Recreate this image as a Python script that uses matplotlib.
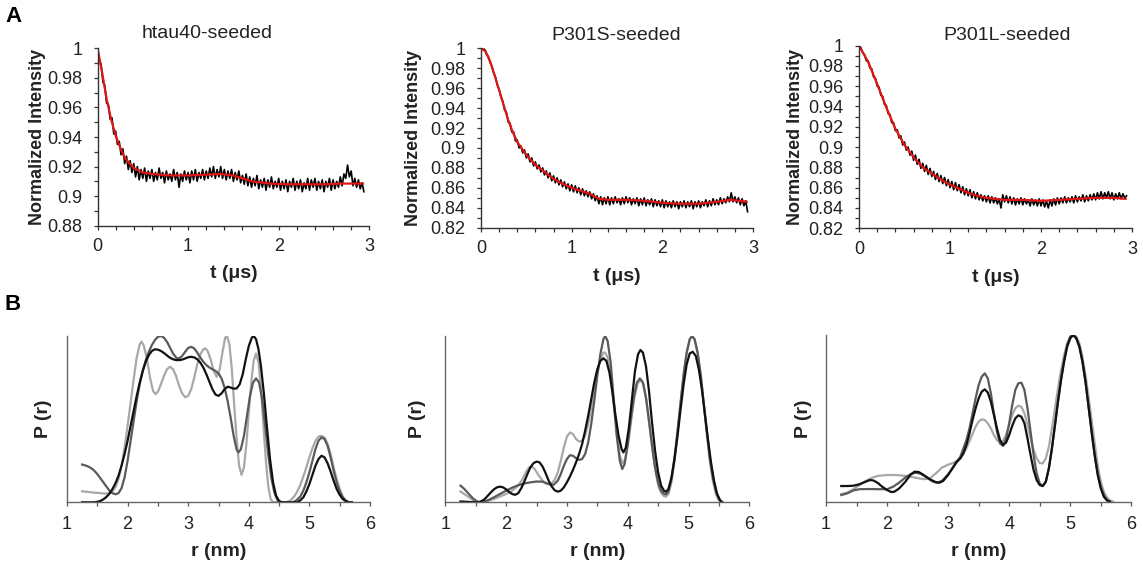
import numpy as np
import matplotlib
matplotlib.use("Agg")
import matplotlib.pyplot as plt
from matplotlib.ticker import MultipleLocator, FuncFormatter

plt.rcParams['font.family'] = ['Liberation Sans', 'DejaVu Sans']

# ---------------- DATA ----------------
titles = ["htau40-seeded", "P301S-seeded", "P301L-seeded"]
trace_dt = 0.02  # sampling step of the DEER traces (us)

trace_htau40 = [
    1.000, 0.992, 0.989, 0.977, 0.975, 0.963, 0.962, 0.952, 0.953, 0.942,
    0.944, 0.935, 0.937, 0.928, 0.932, 0.922, 0.927, 0.918, 0.924, 0.916,
    0.922, 0.913, 0.920, 0.911, 0.918, 0.912, 0.919, 0.910, 0.917, 0.912,
    0.918, 0.910, 0.916, 0.911, 0.919, 0.912, 0.916, 0.909, 0.917, 0.911,
    0.915, 0.910, 0.918, 0.911, 0.916, 0.906, 0.915, 0.910, 0.917, 0.911,
    0.916, 0.909, 0.917, 0.911, 0.918, 0.910, 0.916, 0.912, 0.918, 0.911,
    0.917, 0.912, 0.919, 0.913, 0.920, 0.912, 0.918, 0.913, 0.920, 0.912,
    0.918, 0.911, 0.917, 0.912, 0.918, 0.910, 0.916, 0.911, 0.917, 0.909,
    0.914, 0.908, 0.915, 0.907, 0.913, 0.906, 0.912, 0.907, 0.914, 0.905,
    0.911, 0.906, 0.912, 0.904, 0.911, 0.906, 0.913, 0.905, 0.910, 0.906,
    0.912, 0.904, 0.910, 0.905, 0.911, 0.903, 0.910, 0.906, 0.912, 0.904,
    0.910, 0.905, 0.911, 0.903, 0.909, 0.905, 0.912, 0.904, 0.911, 0.906,
    0.912, 0.904, 0.910, 0.905, 0.911, 0.903, 0.910, 0.906, 0.912, 0.904,
    0.911, 0.905, 0.910, 0.906, 0.913, 0.907, 0.915, 0.912, 0.921, 0.913,
    0.917, 0.907, 0.912, 0.906, 0.911, 0.905, 0.909, 0.903]

trace_p301s = [
    1.000, 0.999, 0.999, 0.994, 0.992, 0.986, 0.982, 0.975, 0.971, 0.963,
    0.959, 0.951, 0.947, 0.938, 0.936, 0.926, 0.925, 0.916, 0.916, 0.907,
    0.908, 0.900, 0.902, 0.895, 0.898, 0.890, 0.894, 0.886, 0.890, 0.882,
    0.886, 0.879, 0.883, 0.876, 0.880, 0.873, 0.877, 0.870, 0.875, 0.867,
    0.872, 0.865, 0.870, 0.863, 0.868, 0.861, 0.866, 0.859, 0.864, 0.857,
    0.863, 0.856, 0.862, 0.855, 0.860, 0.853, 0.859, 0.852, 0.857, 0.851,
    0.856, 0.849, 0.854, 0.847, 0.852, 0.844, 0.851, 0.843, 0.850, 0.844,
    0.851, 0.843, 0.850, 0.844, 0.851, 0.845, 0.849, 0.843, 0.850, 0.844,
    0.851, 0.845, 0.850, 0.843, 0.849, 0.844, 0.850, 0.842, 0.849, 0.843,
    0.850, 0.842, 0.848, 0.843, 0.849, 0.841, 0.848, 0.842, 0.847, 0.841,
    0.848, 0.840, 0.847, 0.841, 0.846, 0.840, 0.847, 0.841, 0.846, 0.839,
    0.846, 0.841, 0.847, 0.840, 0.846, 0.841, 0.847, 0.839, 0.846, 0.841,
    0.847, 0.840, 0.846, 0.842, 0.848, 0.841, 0.847, 0.842, 0.849, 0.843,
    0.848, 0.843, 0.850, 0.844, 0.849, 0.845, 0.851, 0.846, 0.855, 0.846,
    0.851, 0.845, 0.850, 0.843, 0.849, 0.842, 0.847, 0.836]

trace_p301l = [
    1.000, 0.998, 0.993, 0.991, 0.985, 0.985, 0.978, 0.977, 0.969, 0.968,
    0.960, 0.959, 0.951, 0.950, 0.942, 0.941, 0.933, 0.932, 0.924, 0.924,
    0.916, 0.917, 0.909, 0.911, 0.902, 0.905, 0.897, 0.900, 0.892, 0.896,
    0.887, 0.892, 0.883, 0.888, 0.879, 0.884, 0.876, 0.882, 0.873, 0.879,
    0.871, 0.876, 0.868, 0.874, 0.866, 0.872, 0.864, 0.870, 0.862, 0.868,
    0.860, 0.866, 0.858, 0.865, 0.857, 0.863, 0.855, 0.861, 0.853, 0.859,
    0.852, 0.858, 0.850, 0.856, 0.849, 0.855, 0.848, 0.853, 0.847, 0.852,
    0.846, 0.852, 0.845, 0.851, 0.845, 0.850, 0.844, 0.849, 0.840, 0.853,
    0.846, 0.852, 0.845, 0.851, 0.844, 0.850, 0.843, 0.849, 0.844, 0.850,
    0.843, 0.849, 0.844, 0.848, 0.842, 0.849, 0.843, 0.848, 0.842, 0.849,
    0.842, 0.848, 0.841, 0.847, 0.840, 0.848, 0.842, 0.849, 0.843, 0.850,
    0.844, 0.850, 0.845, 0.851, 0.845, 0.850, 0.846, 0.851, 0.845, 0.852,
    0.846, 0.851, 0.847, 0.853, 0.846, 0.852, 0.847, 0.853, 0.848, 0.854,
    0.848, 0.855, 0.849, 0.856, 0.849, 0.855, 0.850, 0.856, 0.849, 0.855,
    0.848, 0.854, 0.849, 0.855, 0.849, 0.854, 0.850, 0.852]

# fitted curves (red)
fit_t_htau40 = [0.0, 0.05, 0.1, 0.15, 0.2, 0.25, 0.3, 0.4, 0.5, 0.6, 0.8, 1.0,
                1.2, 1.35, 1.5, 1.7, 1.9, 2.1, 2.3, 2.5, 2.7, 2.93]
fit_htau40 = [1.000, 0.984, 0.966, 0.952, 0.941, 0.933, 0.926, 0.919, 0.916,
              0.915, 0.914, 0.914, 0.9145, 0.915, 0.914, 0.910, 0.9085, 0.908,
              0.908, 0.908, 0.9085, 0.9085]

fit_t_p301s = [0.0, 0.05, 0.1, 0.15, 0.2, 0.25, 0.3, 0.35, 0.4, 0.5, 0.6, 0.7,
               0.8, 0.9, 1.0, 1.1, 1.2, 1.3, 1.4, 1.6, 1.8, 2.0, 2.2, 2.4, 2.6,
               2.75, 2.93]
fit_p301s = [1.000, 0.997, 0.987, 0.973, 0.958, 0.943, 0.928, 0.916, 0.906,
             0.893, 0.883, 0.876, 0.869, 0.864, 0.860, 0.857, 0.854, 0.849,
             0.848, 0.848, 0.847, 0.845, 0.844, 0.844, 0.846, 0.848, 0.846]

fit_t_p301l = [0.0, 0.1, 0.2, 0.3, 0.4, 0.5, 0.6, 0.7, 0.8, 0.9, 1.0, 1.1, 1.2,
               1.3, 1.4, 1.6, 1.8, 2.0, 2.2, 2.4, 2.6, 2.8, 2.93]
fit_p301l = [1.000, 0.984, 0.962, 0.939, 0.918, 0.902, 0.890, 0.880, 0.874,
             0.868, 0.863, 0.859, 0.855, 0.852, 0.850, 0.848, 0.848, 0.847,
             0.848, 0.849, 0.850, 0.850, 0.849]

ylims_top = [(0.88, 1.0), (0.82, 1.0), (0.82, 1.0)]

# distance distributions P(r): black, dark grey, light grey per panel
r_b1_black = [1.25, 1.45, 1.5, 1.55, 1.6, 1.65, 1.7, 1.75, 1.8, 1.85, 1.9, 1.95,
              2.0, 2.05, 2.1, 2.15, 2.2, 2.25, 2.3, 2.35, 2.4, 2.45, 2.5, 2.55,
              2.6, 2.65, 2.7, 2.75, 2.8, 2.85, 2.9, 2.95, 3.0, 3.05, 3.1, 3.15,
              3.2, 3.25, 3.3, 3.35, 3.4, 3.45, 3.5, 3.55, 3.6, 3.65, 3.7, 3.75,
              3.8, 3.85, 3.9, 3.95, 4.0, 4.05, 4.08, 4.12, 4.16, 4.2, 4.25, 4.3,
              4.35, 4.4, 4.45, 4.5, 4.55, 4.8, 4.85, 4.9, 4.95, 5.0, 5.05, 5.1,
              5.15, 5.2, 5.25, 5.3, 5.35, 5.4, 5.45, 5.5, 5.55, 5.6, 5.65, 5.7]
p_b1_black = [0.0, 0.0, 0.003, 0.008, 0.018, 0.032, 0.052, 0.08, 0.115, 0.16,
              0.22, 0.29, 0.37, 0.46, 0.55, 0.64, 0.72, 0.79, 0.845, 0.885, 0.91,
              0.92, 0.918, 0.91, 0.898, 0.883, 0.869, 0.86, 0.855, 0.855, 0.858,
              0.865, 0.872, 0.875, 0.871, 0.86, 0.84, 0.81, 0.77, 0.725, 0.68,
              0.648, 0.64, 0.655, 0.68, 0.695, 0.69, 0.683, 0.685, 0.71, 0.77,
              0.86, 0.94, 0.99, 1.0, 0.98, 0.92, 0.82, 0.65, 0.45, 0.26, 0.12,
              0.04, 0.008, 0.0, 0.0, 0.012, 0.03, 0.065, 0.11, 0.165, 0.22, 0.26,
              0.28, 0.27, 0.235, 0.185, 0.13, 0.08, 0.045, 0.02, 0.007, 0.0, 0.0]

r_b1_dark = [1.25, 1.3, 1.35, 1.4, 1.45, 1.5, 1.55, 1.6, 1.65, 1.7, 1.75, 1.8,
             1.85, 1.9, 1.95, 2.0, 2.05, 2.1, 2.15, 2.2, 2.25, 2.3, 2.35, 2.4,
             2.45, 2.5, 2.55, 2.6, 2.65, 2.7, 2.75, 2.8, 2.85, 2.9, 2.95, 3.0,
             3.05, 3.1, 3.15, 3.2, 3.25, 3.3, 3.35, 3.4, 3.45, 3.5, 3.55, 3.6,
             3.65, 3.7, 3.75, 3.8, 3.83, 3.87, 3.92, 3.97, 4.02, 4.07, 4.12,
             4.17, 4.22, 4.27, 4.32, 4.37, 4.42, 4.47, 4.5, 4.72, 4.78, 4.85,
             4.9, 4.95, 5.0, 5.05, 5.1, 5.15, 5.2, 5.25, 5.3, 5.35, 5.4, 5.45,
             5.5, 5.55, 5.6, 5.65, 5.7]
p_b1_dark = [0.227, 0.222, 0.215, 0.205, 0.19, 0.17, 0.145, 0.12, 0.095, 0.07,
             0.055, 0.048, 0.055, 0.085, 0.15, 0.25, 0.37, 0.49, 0.61, 0.71,
             0.79, 0.855, 0.905, 0.945, 0.975, 0.995, 1.0, 0.99, 0.965, 0.93,
             0.895, 0.87, 0.865, 0.88, 0.905, 0.928, 0.935, 0.925, 0.9, 0.87,
             0.845, 0.825, 0.81, 0.8, 0.79, 0.775, 0.745, 0.69, 0.61, 0.51, 0.40,
             0.315, 0.30, 0.32, 0.40, 0.52, 0.64, 0.72, 0.745, 0.72, 0.62, 0.46,
             0.29, 0.15, 0.06, 0.015, 0.0, 0.0, 0.01, 0.035, 0.07, 0.12, 0.18,
             0.25, 0.32, 0.37, 0.39, 0.38, 0.34, 0.27, 0.19, 0.12, 0.065, 0.03,
             0.01, 0.0, 0.0]

r_b1_light = [1.25, 1.4, 1.55, 1.65, 1.7, 1.75, 1.8, 1.85, 1.9, 1.95, 2.0, 2.05,
              2.1, 2.15, 2.2, 2.23, 2.27, 2.32, 2.37, 2.42, 2.46, 2.5, 2.55, 2.6,
              2.65, 2.7, 2.75, 2.8, 2.85, 2.9, 2.95, 3.0, 3.05, 3.1, 3.15, 3.2,
              3.25, 3.28, 3.32, 3.37, 3.42, 3.47, 3.52, 3.57, 3.61, 3.64, 3.68,
              3.72, 3.76, 3.8, 3.84, 3.88, 3.92, 3.96, 4.0, 4.04, 4.08, 4.12,
              4.16, 4.2, 4.24, 4.28, 4.32, 4.36, 4.4, 4.62, 4.68, 4.75, 4.8,
              4.85, 4.9, 4.95, 5.0, 5.05, 5.1, 5.15, 5.2, 5.25, 5.3, 5.35, 5.4,
              5.45, 5.5, 5.55, 5.6, 5.65, 5.7]
p_b1_light = [0.066, 0.06, 0.055, 0.052, 0.055, 0.065, 0.09, 0.14, 0.22, 0.33,
              0.46, 0.60, 0.74, 0.87, 0.95, 0.966, 0.94, 0.86, 0.75, 0.67, 0.65,
              0.665, 0.71, 0.76, 0.80, 0.815, 0.80, 0.76, 0.70, 0.655, 0.632,
              0.64, 0.68, 0.75, 0.83, 0.89, 0.92, 0.926, 0.91, 0.86, 0.79, 0.755,
              0.80, 0.91, 0.99, 1.0, 0.95, 0.80, 0.58, 0.38, 0.22, 0.165, 0.21,
              0.35, 0.54, 0.72, 0.85, 0.895, 0.84, 0.69, 0.47, 0.26, 0.10, 0.02,
              0.0, 0.0, 0.01, 0.035, 0.065, 0.105, 0.155, 0.21, 0.27, 0.325,
              0.37, 0.395, 0.40, 0.39, 0.35, 0.29, 0.21, 0.14, 0.08, 0.035, 0.01,
              0.0, 0.0]

r_b2_black = [1.25, 1.4, 1.5, 1.55, 1.6, 1.65, 1.7, 1.75, 1.8, 1.85, 1.9, 1.95,
              2.0, 2.05, 2.1, 2.15, 2.2, 2.25, 2.3, 2.35, 2.4, 2.45, 2.5, 2.55,
              2.6, 2.65, 2.7, 2.75, 2.8, 2.85, 2.9, 2.95, 3.0, 3.05, 3.1, 3.15,
              3.2, 3.25, 3.3, 3.35, 3.4, 3.45, 3.5, 3.55, 3.6, 3.65, 3.7, 3.75,
              3.8, 3.85, 3.9, 3.93, 3.97, 4.02, 4.07, 4.12, 4.17, 4.21, 4.25,
              4.3, 4.35, 4.4, 4.45, 4.5, 4.55, 4.6, 4.63, 4.67, 4.72, 4.77,
              4.82, 4.87, 4.92, 4.97, 5.02, 5.07, 5.12, 5.17, 5.22, 5.27, 5.32,
              5.37, 5.42, 5.47, 5.52, 5.56]
p_b2_black = [0.005, 0.002, 0.0, 0.0, 0.008, 0.02, 0.04, 0.06, 0.078, 0.09,
              0.094, 0.09, 0.078, 0.062, 0.05, 0.045, 0.055, 0.085, 0.125, 0.17,
              0.21, 0.235, 0.245, 0.24, 0.215, 0.175, 0.13, 0.095, 0.072, 0.064,
              0.07, 0.09, 0.12, 0.155, 0.195, 0.24, 0.29, 0.35, 0.43, 0.52, 0.62,
              0.72, 0.80, 0.85, 0.866, 0.85, 0.78, 0.66, 0.52, 0.40, 0.32, 0.30,
              0.33, 0.45, 0.62, 0.79, 0.89, 0.916, 0.90, 0.82, 0.67, 0.48, 0.31,
              0.18, 0.10, 0.068, 0.064, 0.08, 0.15, 0.26, 0.40, 0.56, 0.71, 0.83,
              0.895, 0.905, 0.88, 0.80, 0.68, 0.53, 0.38, 0.24, 0.13, 0.05,
              0.012, 0.0]

r_b2_dark = [1.25, 1.3, 1.35, 1.4, 1.45, 1.5, 1.55, 1.6, 1.7, 1.8, 1.9, 2.0,
             2.1, 2.2, 2.3, 2.4, 2.5, 2.6, 2.7, 2.78, 2.85, 2.9, 2.95, 3.0, 3.05,
             3.1, 3.15, 3.2, 3.25, 3.3, 3.35, 3.4, 3.45, 3.5, 3.55, 3.6, 3.63,
             3.67, 3.72, 3.77, 3.82, 3.87, 3.91, 3.95, 4.0, 4.05, 4.1, 4.15, 4.2,
             4.25, 4.3, 4.35, 4.4, 4.45, 4.5, 4.55, 4.6, 4.63, 4.67, 4.72, 4.77,
             4.82, 4.87, 4.92, 4.97, 5.02, 5.06, 5.1, 5.15, 5.2, 5.25, 5.3, 5.35,
             5.4, 5.45, 5.5, 5.55]
p_b2_dark = [0.10, 0.085, 0.065, 0.045, 0.025, 0.01, 0.002, 0.0, 0.012, 0.03,
             0.05, 0.07, 0.088, 0.103, 0.113, 0.12, 0.125, 0.124, 0.11, 0.105,
             0.13, 0.17, 0.22, 0.26, 0.283, 0.28, 0.265, 0.255, 0.26, 0.29, 0.36,
             0.47, 0.61, 0.76, 0.89, 0.98, 1.0, 0.97, 0.84, 0.62, 0.40, 0.25,
             0.20, 0.23, 0.35, 0.50, 0.63, 0.72, 0.745, 0.72, 0.63, 0.49, 0.34,
             0.21, 0.12, 0.07, 0.05, 0.048, 0.065, 0.14, 0.27, 0.43, 0.60, 0.77,
             0.90, 0.98, 1.0, 0.98, 0.90, 0.77, 0.60, 0.43, 0.27, 0.15, 0.07,
             0.02, 0.0]

r_b2_light = [1.25, 1.35, 1.45, 1.55, 1.6, 1.7, 1.8, 1.9, 2.0, 2.1, 2.2, 2.27,
              2.33, 2.38, 2.42, 2.47, 2.53, 2.6, 2.67, 2.73, 2.8, 2.85, 2.9,
              2.95, 3.0, 3.05, 3.1, 3.15, 3.2, 3.25, 3.3, 3.35, 3.4, 3.45, 3.5,
              3.55, 3.6, 3.63, 3.67, 3.72, 3.77, 3.82, 3.87, 3.92, 3.96, 4.01,
              4.06, 4.11, 4.16, 4.21, 4.26, 4.31, 4.36, 4.41, 4.46, 4.51, 4.56,
              4.6, 4.63, 4.67, 4.72, 4.77, 4.82, 4.87, 4.92, 4.97, 5.02, 5.06,
              5.1, 5.15, 5.2, 5.25, 5.3, 5.35, 5.4, 5.45, 5.5, 5.55]
p_b2_light = [0.065, 0.04, 0.015, 0.0, 0.0, 0.008, 0.02, 0.035, 0.05, 0.07,
              0.10, 0.14, 0.185, 0.21, 0.215, 0.20, 0.165, 0.13, 0.11, 0.108,
              0.135, 0.18, 0.25, 0.33, 0.395, 0.42, 0.41, 0.38, 0.365, 0.37,
              0.40, 0.47, 0.57, 0.68, 0.78, 0.86, 0.90, 0.90, 0.87, 0.76, 0.58,
              0.41, 0.28, 0.235, 0.26, 0.36, 0.50, 0.63, 0.71, 0.74, 0.71, 0.61,
              0.46, 0.31, 0.18, 0.09, 0.05, 0.036, 0.034, 0.05, 0.12, 0.25, 0.42,
              0.60, 0.77, 0.90, 0.98, 1.0, 0.98, 0.90, 0.77, 0.59, 0.41, 0.25,
              0.13, 0.05, 0.012, 0.0]

r_b3_black = [1.25, 1.35, 1.45, 1.55, 1.65, 1.72, 1.78, 1.85, 1.92, 2.0, 2.07,
              2.12, 2.2, 2.3, 2.38, 2.45, 2.52, 2.6, 2.7, 2.8, 2.86, 2.92, 3.0,
              3.07, 3.13, 3.2, 3.25, 3.3, 3.35, 3.4, 3.45, 3.5, 3.55, 3.6, 3.65,
              3.7, 3.75, 3.8, 3.85, 3.9, 3.95, 4.0, 4.05, 4.1, 4.15, 4.2, 4.25,
              4.3, 4.35, 4.4, 4.45, 4.5, 4.55, 4.6, 4.65, 4.7, 4.75, 4.8, 4.85,
              4.9, 4.95, 5.0, 5.05, 5.1, 5.15, 5.2, 5.25, 5.3, 5.35, 5.4, 5.45,
              5.5, 5.55, 5.6, 5.65]
p_b3_black = [0.094, 0.094, 0.096, 0.105, 0.12, 0.13, 0.127, 0.112, 0.09, 0.07,
              0.058, 0.06, 0.08, 0.12, 0.16, 0.18, 0.178, 0.16, 0.135, 0.117,
              0.114, 0.125, 0.16, 0.20, 0.235, 0.26, 0.29, 0.34, 0.41, 0.49,
              0.56, 0.62, 0.66, 0.674, 0.655, 0.60, 0.52, 0.44, 0.37, 0.34, 0.355,
              0.40, 0.455, 0.50, 0.518, 0.51, 0.47, 0.38, 0.28, 0.19, 0.13, 0.10,
              0.094, 0.12, 0.20, 0.32, 0.46, 0.60, 0.73, 0.84, 0.93, 0.98, 1.0,
              0.98, 0.93, 0.84, 0.72, 0.57, 0.42, 0.28, 0.16, 0.08, 0.03, 0.008,
              0.0]

r_b3_dark = [1.25, 1.35, 1.45, 1.55, 1.7, 1.85, 2.0, 2.1, 2.2, 2.3, 2.4, 2.47,
             2.55, 2.65, 2.75, 2.82, 2.9, 3.0, 3.1, 3.2, 3.3, 3.35, 3.4, 3.45,
             3.5, 3.55, 3.6, 3.65, 3.7, 3.75, 3.8, 3.85, 3.9, 3.95, 4.0, 4.05,
             4.1, 4.15, 4.2, 4.25, 4.3, 4.35, 4.4, 4.45, 4.5, 4.55, 4.6, 4.65,
             4.7, 4.75, 4.8, 4.85, 4.9, 4.95, 5.0, 5.05, 5.1, 5.15, 5.2, 5.25,
             5.3, 5.35, 5.4, 5.45, 5.5, 5.55, 5.6, 5.65]
p_b3_dark = [0.04, 0.05, 0.068, 0.075, 0.076, 0.075, 0.075, 0.09, 0.115, 0.145,
             0.168, 0.174, 0.168, 0.145, 0.12, 0.114, 0.125, 0.165, 0.215, 0.27,
             0.37, 0.44, 0.53, 0.62, 0.70, 0.75, 0.77, 0.74, 0.65, 0.53, 0.42,
             0.35, 0.335, 0.38, 0.47, 0.58, 0.67, 0.71, 0.714, 0.67, 0.56, 0.42,
             0.28, 0.17, 0.11, 0.094, 0.12, 0.20, 0.32, 0.46, 0.61, 0.74, 0.85,
             0.94, 0.99, 1.0, 0.98, 0.93, 0.84, 0.72, 0.57, 0.42, 0.28, 0.17,
             0.09, 0.04, 0.012, 0.0]

r_b3_light = [1.25, 1.35, 1.45, 1.55, 1.65, 1.75, 1.85, 2.0, 2.15, 2.3, 2.45,
              2.6, 2.7, 2.8, 2.9, 3.0, 3.1, 3.2, 3.3, 3.38, 3.45, 3.5, 3.55, 3.6,
              3.65, 3.7, 3.75, 3.8, 3.85, 3.9, 3.95, 4.0, 4.05, 4.1, 4.15, 4.2,
              4.25, 4.3, 4.35, 4.4, 4.45, 4.5, 4.55, 4.6, 4.65, 4.7, 4.75, 4.8,
              4.85, 4.9, 4.95, 5.0, 5.05, 5.1, 5.15, 5.2, 5.25, 5.3, 5.35, 5.4,
              5.45, 5.5, 5.55, 5.6, 5.65, 5.7]
p_b3_light = [0.046, 0.055, 0.075, 0.10, 0.125, 0.143, 0.155, 0.16, 0.16, 0.155,
              0.145, 0.135, 0.14, 0.17, 0.205, 0.222, 0.235, 0.26, 0.32, 0.39,
              0.45, 0.48, 0.494, 0.49, 0.47, 0.44, 0.40, 0.37, 0.355, 0.365,
              0.40, 0.46, 0.52, 0.56, 0.576, 0.57, 0.53, 0.46, 0.38, 0.31, 0.26,
              0.232, 0.23, 0.26, 0.33, 0.44, 0.56, 0.68, 0.79, 0.88, 0.95, 0.99,
              1.0, 0.99, 0.95, 0.87, 0.76, 0.63, 0.49, 0.35, 0.22, 0.12, 0.06,
              0.025, 0.008, 0.0]

r_ticks = [1, 2, 3, 4, 5, 6]

# ---------------- FIGURE ----------------
W, H = 1143, 565
fig = plt.figure(figsize=(W / 100, H / 100), dpi=100)

def px_axes(x0, x1, ytop, ybot):
    return fig.add_axes([x0 / W, 1 - ybot / H, (x1 - x0) / W, (ybot - ytop) / H])

top_boxes = [(97.5, 369.3, 48.3, 225.7), (481.0, 753.0, 48.3, 227.7), (859.0, 1132.0, 45.5, 228.3)]
top_ylab_x = [-0.222, -0.25, -0.234]
title_pos = [(206.7, 34), (615.8, 36), (1007.0, 35)]
traces = [trace_htau40, trace_p301s, trace_p301l]
fits = [(fit_t_htau40, fit_htau40), (fit_t_p301s, fit_p301s), (fit_t_p301l, fit_p301l)]

spine_col = '#333333'
fmt = FuncFormatter(lambda v, p: ('%.2f' % v).rstrip('0').rstrip('.'))

for i in range(3):
    ax = px_axes(*top_boxes[i])
    tr = traces[i]
    t_tr = np.arange(len(tr)) * trace_dt
    ax.plot(t_tr, tr, color='black', lw=1.2)
    ax.plot(fits[i][0], fits[i][1], color='#e01515', lw=1.6)
    ax.set_xlim(0, 3)
    ax.set_ylim(*ylims_top[i])
    ax.xaxis.set_major_locator(MultipleLocator(1))
    ax.xaxis.set_minor_locator(MultipleLocator(0.2))
    ax.yaxis.set_major_locator(MultipleLocator(0.02))
    ax.yaxis.set_minor_locator(MultipleLocator(0.01))
    ax.yaxis.set_major_formatter(fmt)
    for s in ['top', 'right']:
        ax.spines[s].set_visible(False)
    for s in ['left', 'bottom']:
        ax.spines[s].set_color(spine_col)
        ax.spines[s].set_linewidth(1.0)
    ax.tick_params(which='both', direction='out', length=3, width=0.9, color=spine_col,
                   labelsize=13, labelcolor='#222222')
    ax.tick_params(axis='y', which='major', pad=8)
    ax.tick_params(axis='x', which='major', pad=6)
    ax.text(0.5, -0.27, 't (\u03bcs)', transform=ax.transAxes, ha='center', va='center',
            fontsize=14, fontweight='bold', color='#222222')
    ax.text(top_ylab_x[i], 0.5, 'Normalized Intensity', transform=ax.transAxes,
            ha='center', va='center', rotation=90, fontsize=13, fontweight='bold',
            color='#222222')
    fig.text(title_pos[i][0] / W, 1 - title_pos[i][1] / H, titles[i], ha='center',
             va='center', fontsize=14, color='#222222')

bot_boxes = [(67.0, 370.0, 336.0, 502.3), (445.3, 749.3, 336.0, 502.3), (826.0, 1131.3, 335.0, 501.7)]
bot_ylab_x = [-0.079, -0.093, -0.075]
dists = [
    [(r_b1_light, p_b1_light), (r_b1_dark, p_b1_dark), (r_b1_black, p_b1_black)],
    [(r_b2_light, p_b2_light), (r_b2_dark, p_b2_dark), (r_b2_black, p_b2_black)],
    [(r_b3_light, p_b3_light), (r_b3_dark, p_b3_dark), (r_b3_black, p_b3_black)],
]
curve_cols = ['#a8a8a8', '#5a5a5a', '#111111']

for i in range(3):
    ax = px_axes(*bot_boxes[i])
    for (r, p), c in zip(dists[i], curve_cols):
        ax.plot(r, p, color=c, lw=1.6, solid_joinstyle='round')
    ax.set_xlim(1, 6)
    ax.set_ylim(0, 1.0)
    ax.set_xticks(r_ticks)
    ax.xaxis.set_minor_locator(MultipleLocator(0.5))
    ax.set_yticks([])
    for s in ['top', 'right']:
        ax.spines[s].set_visible(False)
    for s in ['left', 'bottom']:
        ax.spines[s].set_color('#666666')
        ax.spines[s].set_linewidth(1.0)
    ax.tick_params(which='both', direction='out', length=3, width=0.9, color='#555555',
                   labelsize=13, labelcolor='#222222')
    ax.tick_params(axis='x', which='major', pad=7)
    ax.text(0.5, -0.297, 'r (nm)', transform=ax.transAxes, ha='center', va='center',
            fontsize=14, fontweight='bold', color='#222222')
    ax.text(bot_ylab_x[i], 0.5, 'P (r)', transform=ax.transAxes, ha='center',
            va='center', rotation=90, fontsize=14, fontweight='bold', color='#222222')

fig.text(14 / W, 1 - 16 / H, 'A', ha='center', va='center', fontsize=16, fontweight='bold')
fig.text(13 / W, 1 - 305 / H, 'B', ha='center', va='center', fontsize=16, fontweight='bold')

fig.savefig('out.png', dpi=100)
